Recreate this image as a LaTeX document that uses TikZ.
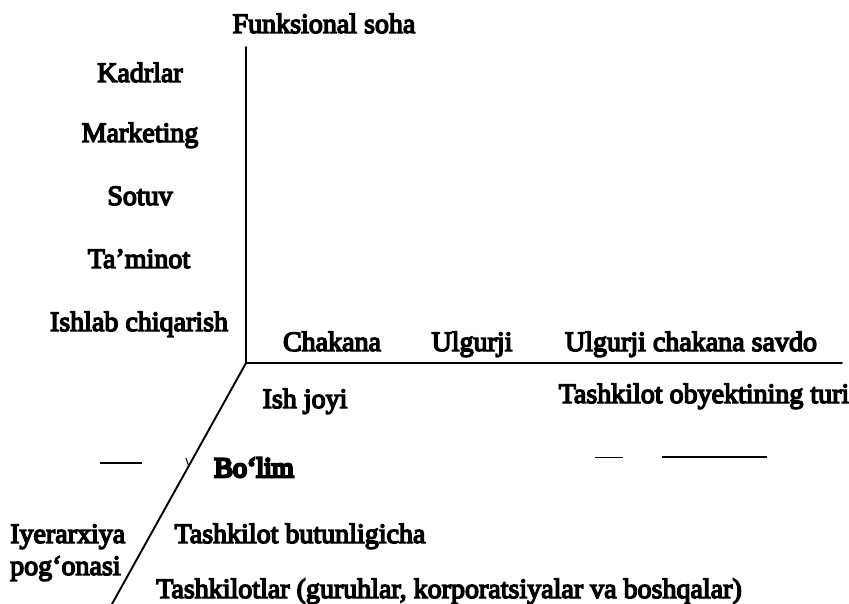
\documentclass[tikz,border=0pt]{standalone}
\usepackage{fontspec}
\setmainfont{Liberation Serif}
\newfontfamily\inkfont{Liberation Serif}[FakeBold=5]
\newfontfamily\heavyfont{Liberation Serif}[FakeBold=9]
\begin{document}
\begin{tikzpicture}[x=1pt,y=-1pt,
  lbl/.style={anchor=base,inner sep=0pt,font=\inkfont\fontsize{28}{30}\selectfont},
  lblw/.style={lbl,anchor=base west},
  axis/.style={line width=1.9pt,line cap=round},
  trace/.style={line width=1.1pt}]
\useasboundingbox (0,0) rectangle (849,604);
% axes
\coordinate (O) at (246,363);
\coordinate (top) at (246,47);
\coordinate (right) at (842,363);
\coordinate (low) at (112,604);
\draw[axis] (top) -- (O) -- (right);
\draw[axis] (O) -- (low);
% axis titles
\node[lbl] (fs) at (324,33) {Funksional soha};
\node[lbl] (tot) at (704,403) {Tashkilot obyektining turi};
\node[lblw] (iy) at (10,543) {Iyerarxiya};
\node[lblw] (po) at (10,575) {pog‘onasi};
% functional areas
\node[lbl] (f1) at (140,82) {Kadrlar};
\node[lbl] (f2) at (140,142) {Marketing};
\node[lbl] (f3) at (140,205) {Sotuv};
\node[lbl] (f4) at (139,268) {Ta’minot};
\node[lbl] (f5) at (139,331) {Ishlab chiqarish};
% object types
\node[lbl] (t1) at (332,351) {Chakana};
\node[lbl] (t2) at (472,351) {Ulgurji};
\node[lbl] (t3) at (691,351) {Ulgurji chakana savdo};
% hierarchy levels
\node[lbl] (h1) at (305,408) {Ish joyi};
\node[lbl,font=\heavyfont\fontsize{28}{30}\selectfont] (h2) at (254,477) {Bo‘lim};
\node[lbl] (h3) at (300,543) {Tashkilot butunligicha};
\node[lbl] (h4) at (449,598) {Tashkilotlar (guruhlar, korporatsiyalar va boshqalar)};
% remaining strokes of a broken rule
\coordinate (d1a) at (100,463); \coordinate (d1b) at (142,463);
\coordinate (d2a) at (186,458); \coordinate (d2b) at (189,467);
\coordinate (d3a) at (595,457); \coordinate (d3b) at (623,457);
\coordinate (d4a) at (662,457); \coordinate (d4b) at (767,457);
\draw[trace] (d1a) -- (d1b);
\draw[trace] (d2a) -- (d2b);
\draw[line width=0.7pt] (d3a) -- (d3b);
\draw[line width=1.6pt] (d4a) -- (d4b);
\end{tikzpicture}
\end{document}
